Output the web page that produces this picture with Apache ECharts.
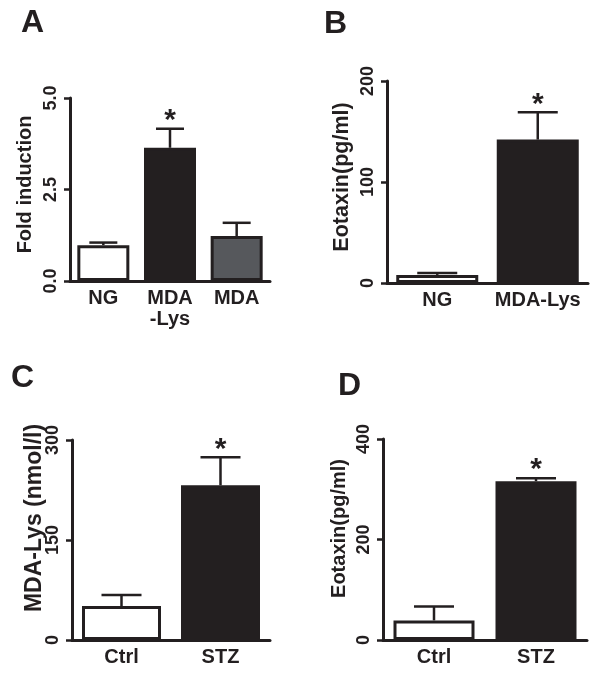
<!DOCTYPE html>
<html>
<head>
<meta charset="utf-8">
<script src="https://cdn.jsdelivr.net/npm/echarts@6/dist/echarts.min.js"></script>
<style>
html,body{margin:0;padding:0;background:#fff;}
#chart{width:603px;height:677px;}
</style>
</head>
<body>
<div id="chart"></div>
<script>
// ---- Data ----
const catsA = ['NG', 'MDA\n-Lys', 'MDA'];
const valsA = [0.98, 3.64, 1.23];
const errA = [0.07, 0.52, 0.36];
const starsA = ['', '*', ''];
const ticksA = [0, 2.5, 5];

const catsB = ['NG', 'MDA-Lys'];
const valsB = [8, 142];
const errB = [2, 27];
const starsB = ['', '*'];
const ticksB = [0, 100, 200];

const catsC = ['Ctrl', 'STZ'];
const valsC = [51, 232];
const errC = [16.5, 42];
const starsC = ['', '*'];
const ticksC = [0, 150, 300];

const catsD = ['Ctrl', 'STZ'];
const valsD = [39, 316];
const errD = [27.5, 6];
const starsD = ['', '*'];
const ticksD = [0, 200, 400];

const titleA = 'Fold induction';
const titleB = 'Eotaxin(pg/ml)';
const titleC = 'MDA-Lys (nmol/l)';
const titleD = 'Eotaxin(pg/ml)';

// ---- Styles ----
const INK = '#231f20';
const FONT = '"Liberation Sans", Arial, sans-serif';
const colorsA = ['#ffffff', INK, '#56585c'];
const colorsB = ['#ffffff', INK];

const panels = [
  {cats: catsA, vals: valsA, errs: errA, stars: starsA, ticks: ticksA, title: titleA, colors: colorsA,
   grid: {left: 70, top: 98, width: 200, height: 183}, barW: 52, cap: 14, nameGap: 35, nameSize: 20, nameShift: 10, dec: 1},
  {cats: catsB, vals: valsB, errs: errB, stars: starsB, ticks: ticksB, title: titleB, colors: colorsB,
   grid: {left: 387, top: 81, width: 201, height: 202}, barW: 82, cap: 20, nameGap: 34, nameSize: 21.5, nameShift: 10, dec: 0},
  {cats: catsC, vals: valsC, errs: errC, stars: starsC, ticks: ticksC, title: titleC, colors: colorsB,
   grid: {left: 72, top: 440, width: 198, height: 200}, barW: 79, cap: 20, nameGap: 26, nameSize: 23, nameShift: 44, dec: 0},
  {cats: catsD, vals: valsD, errs: errD, stars: starsD, ticks: ticksD, title: titleD, colors: colorsB,
   grid: {left: 383, top: 439, width: 204, height: 201}, barW: 81, cap: 20, nameGap: 34, nameSize: 20, nameShift: 22, dec: 0}
];

const grids = [], xAxes = [], yAxes = [], series = [];
panels.forEach((p, k) => {
  grids.push(Object.assign({containLabel: false}, p.grid));
  const interval = p.ticks[1] - p.ticks[0];
  xAxes.push({
    type: 'category', gridIndex: k, data: p.cats,
    axisLine: {lineStyle: {color: INK, width: 3}},
    axisTick: {show: false},
    axisLabel: {interval: 0, color: INK, fontFamily: FONT, fontWeight: 'bold', fontSize: 20, margin: 7, lineHeight: 21}
  });
  yAxes.push({
    type: 'value', gridIndex: k, min: p.ticks[0], max: p.ticks[p.ticks.length - 1], interval: interval,
    name: p.title, nameLocation: 'middle', nameRotate: 90, nameGap: p.nameGap, nameMoveOverlap: false,
    nameTextStyle: {color: INK, fontFamily: FONT, fontWeight: 'bold', fontSize: p.nameSize,
      padding: [0, 0, 0, p.nameShift]},
    axisLine: {show: true, lineStyle: {color: INK, width: 3}},
    axisTick: {show: true, length: 6, lineStyle: {color: INK, width: 2.5}},
    splitLine: {show: false},
    axisLabel: {rotate: 90, color: INK, fontFamily: FONT, fontWeight: 'bold', fontSize: 18, margin: 10,
      formatter: v => v.toFixed(p.dec)}
  });
  series.push({
    type: 'bar', xAxisIndex: k, yAxisIndex: k, barWidth: p.barW,
    data: p.vals.map((v, i) => ({value: v, itemStyle: {color: p.colors[i]}})),
    itemStyle: {borderColor: INK, borderWidth: 3},
    silent: true, animation: false, z: 2
  });
  series.push({
    type: 'custom', xAxisIndex: k, yAxisIndex: k,
    data: p.vals.map((v, i) => [i, v, p.errs[i]]),
    encode: {x: 0, y: 1},
    z: 3, silent: true, animation: false,
    renderItem: function (params, api) {
      const i = api.value(0), v = api.value(1), e = api.value(2);
      const p0 = api.coord([i, v]);
      const p1 = api.coord([i, v + e]);
      const style = {stroke: INK, lineWidth: 2.5};
      const children = [
        {type: 'line', shape: {x1: p0[0], y1: p0[1], x2: p1[0], y2: p1[1]}, style: style},
        {type: 'line', shape: {x1: p1[0] - p.cap, y1: p1[1], x2: p1[0] + p.cap, y2: p1[1]}, style: style}
      ];
      const s = p.stars[params.dataIndex];
      if (s) {
        children.push({type: 'text', x: p1[0], y: p1[1] + 7,
          style: {text: s, fill: INK, font: 'bold 30px ' + FONT, align: 'center', verticalAlign: 'bottom'}});
      }
      return {type: 'group', children: children};
    }
  });
});

const letterStyle = {fill: INK, font: 'bold 32px ' + FONT, textAlign: 'left', textVerticalAlign: 'top'};
const chart = echarts.init(document.getElementById('chart'), null, {renderer: 'canvas'});
chart.setOption({
  backgroundColor: '#ffffff',
  animation: false,
  grid: grids, xAxis: xAxes, yAxis: yAxes, series: series,
  graphic: [
    {type: 'text', left: 21, top: 7, style: Object.assign({text: 'A'}, letterStyle)},
    {type: 'text', left: 324, top: 8, style: Object.assign({text: 'B'}, letterStyle)},
    {type: 'text', left: 11, top: 362, style: Object.assign({text: 'C'}, letterStyle)},
    {type: 'text', left: 338, top: 370, style: Object.assign({text: 'D'}, letterStyle)}
  ]
});
</script>
</body>
</html>
